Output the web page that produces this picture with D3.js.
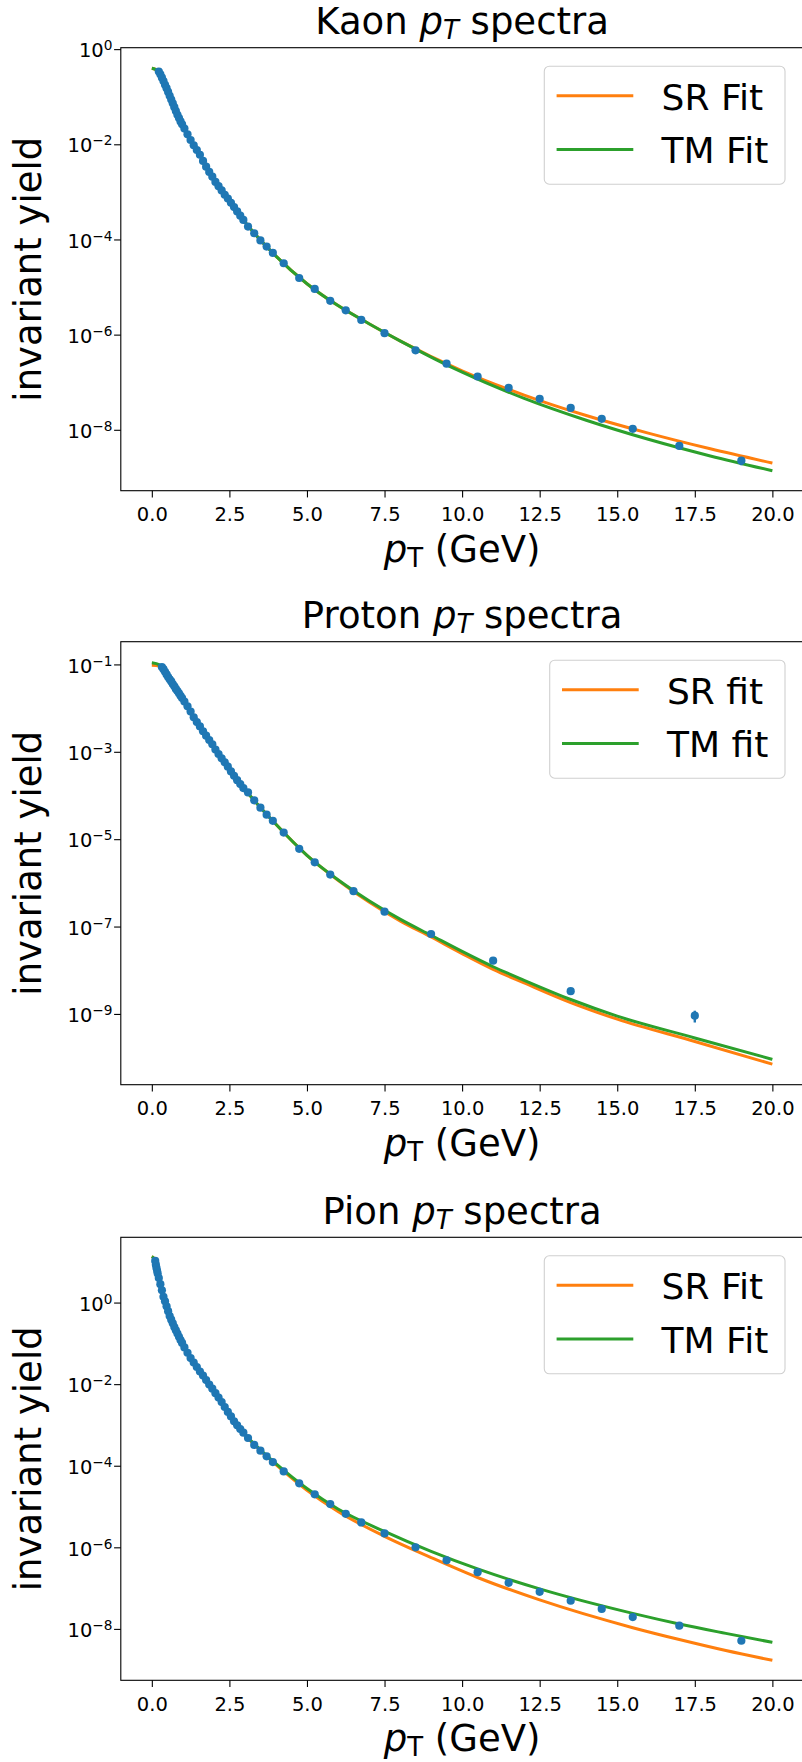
<!DOCTYPE html>
<html>
<head>
<meta charset="utf-8">
<script src="https://cdn.jsdelivr.net/npm/d3@7"></script>
<style>
  body { margin: 0; background: #fff; }
  svg { display: block; font-family: "DejaVu Sans", sans-serif; }
</style>
</head>
<body>
<svg id="chart" width="802" height="1762"></svg>
<script>
// values, yields stored as log10
const xTicks = [0, 2.5, 5, 7.5, 10, 12.5, 15, 17.5, 20];

// Kaon
const kaonPt = [0.225, 0.275, 0.325, 0.375, 0.425, 0.475, 0.525, 0.575, 0.625, 0.675, 0.725, 0.775, 0.825, 0.875, 0.925, 0.975,
    1.05, 1.15, 1.25, 1.35, 1.45, 1.55, 1.65, 1.75, 1.85, 1.95, 2.05, 2.15, 2.25, 2.35, 2.45, 2.55, 2.65, 2.75, 2.85, 2.95,
    3.1, 3.3, 3.5, 3.7, 3.9, 4.25, 4.75, 5.25, 5.75, 6.25, 6.75, 7.5, 8.5, 9.5, 10.5, 11.5, 12.5, 13.5, 14.5, 15.5, 17, 19];
const kaonLogY = [-0.47, -0.53, -0.60, -0.67, -0.75, -0.82, -0.90, -0.98, -1.06, -1.14, -1.22, -1.30, -1.38, -1.45, -1.52, -1.58,
    -1.67, -1.79, -1.91, -2.02, -2.12, -2.22, -2.35, -2.47, -2.58, -2.68, -2.79, -2.88, -2.97, -3.06, -3.14, -3.23, -3.32, -3.41, -3.50, -3.59,
    -3.73, -3.87, -4.02, -4.15, -4.28, -4.50, -4.81, -5.04, -5.29, -5.49, -5.69, -5.97, -6.33, -6.61, -6.88, -7.12, -7.35, -7.54, -7.77, -7.98, -8.34, -8.65];
const kaonErrPt = [15.5, 17, 19];
const kaonErr = [0.05, 0.1, 0.2];
const kaonFitPt = [0, 0.1, 0.25, 0.5, 0.75, 1, 1.5, 2, 2.5, 3, 4, 5, 6, 7, 8, 10, 12, 14, 16, 18, 20];
const kaonSR = [-0.40, -0.42, -0.50, -0.86, -1.26, -1.60, -2.17, -2.73, -3.18, -3.63, -4.35, -4.93, -5.39, -5.77, -6.13, -6.76, -7.27, -7.70, -8.07, -8.40, -8.70];
const kaonTM = [-0.40, -0.42, -0.50, -0.86, -1.26, -1.60, -2.17, -2.73, -3.18, -3.63, -4.35, -4.93, -5.39, -5.77, -6.13, -6.79, -7.34, -7.80, -8.20, -8.55, -8.86];

// Proton
const protonPt = [0.325, 0.375, 0.425, 0.475, 0.525, 0.575, 0.625, 0.675, 0.725, 0.775, 0.825, 0.875, 0.925, 0.975,
    1.05, 1.15, 1.25, 1.35, 1.45, 1.55, 1.65, 1.75, 1.85, 1.95, 2.05, 2.15, 2.25, 2.35, 2.45, 2.55, 2.65, 2.75, 2.85, 2.95,
    3.1, 3.3, 3.5, 3.7, 3.9, 4.25, 4.75, 5.25, 5.75, 6.5, 7.5, 9, 11, 13.5, 17.5];
const protonLogY = [-1.06, -1.11, -1.17, -1.23, -1.29, -1.34, -1.39, -1.45, -1.50, -1.56, -1.61, -1.66, -1.72, -1.77,
    -1.85, -1.96, -2.08, -2.21, -2.32, -2.42, -2.53, -2.63, -2.73, -2.83, -2.95, -3.05, -3.15, -3.24, -3.34, -3.45, -3.55, -3.65, -3.74, -3.83,
    -3.93, -4.11, -4.28, -4.44, -4.58, -4.85, -5.22, -5.53, -5.81, -6.19, -6.66, -7.17, -7.78, -8.48, -9.04];
const protonErrPt = [11, 13.5, 17.5];
const protonErr = [0.05, 0.12, 0.3];
const protonFitPt = [0, 0.25, 0.5, 1, 1.5, 2, 2.5, 3, 4, 5, 6, 7, 8, 9, 10, 11, 12, 13.5, 15, 17.5, 20];
const protonSR = [-1.02, -1.04, -1.26, -1.79, -2.37, -2.90, -3.39, -3.86, -4.66, -5.37, -5.94, -6.44, -6.87, -7.24, -7.62, -7.98, -8.29, -8.74, -9.12, -9.63, -10.15];
const protonTM = [-0.96, -1.01, -1.25, -1.79, -2.37, -2.90, -3.39, -3.86, -4.66, -5.37, -5.93, -6.41, -6.83, -7.20, -7.57, -7.92, -8.23, -8.67, -9.05, -9.55, -10.04];

// Pion
const pionPt = [0.11, 0.13, 0.15, 0.17, 0.19, 0.225, 0.275, 0.325, 0.375, 0.425, 0.475, 0.525, 0.575, 0.625, 0.675, 0.725, 0.775, 0.825, 0.875, 0.925, 0.975,
    1.05, 1.15, 1.25, 1.35, 1.45, 1.55, 1.65, 1.75, 1.85, 1.95, 2.05, 2.15, 2.25, 2.35, 2.45, 2.55, 2.65, 2.75, 2.85, 2.95,
    3.1, 3.3, 3.5, 3.7, 3.9, 4.25, 4.75, 5.25, 5.75, 6.25, 6.75, 7.5, 8.5, 9.5, 10.5, 11.5, 12.5, 13.5, 14.5, 15.5, 17, 19];
const pionLogY = [1.02, 0.93, 0.85, 0.78, 0.71, 0.60, 0.45, 0.30, 0.14, 0.03, -0.09, -0.21, -0.33, -0.42, -0.51, -0.60, -0.68, -0.76, -0.84, -0.92, -0.99,
    -1.10, -1.23, -1.36, -1.47, -1.58, -1.69, -1.79, -1.90, -2.01, -2.11, -2.22, -2.33, -2.44, -2.56, -2.68, -2.79, -2.91, -3.01, -3.10, -3.19,
    -3.32, -3.49, -3.63, -3.77, -3.91, -4.14, -4.43, -4.70, -4.94, -5.18, -5.39, -5.66, -6.00, -6.32, -6.61, -6.87, -7.09, -7.31, -7.51, -7.71, -7.92, -8.29];
const pionErrPt = [17, 19];
const pionErr = [0.05, 0.08];
const pionFitPt = [0, 0.1, 0.2, 0.3, 0.5, 0.75, 1, 1.5, 2, 2.5, 3, 3.5, 4, 5, 6, 7.5, 9, 10.5, 12.5, 15.5, 17, 18.5, 20];
const pionSR = [1.13, 1.04, 0.69, 0.37, -0.15, -0.64, -1.04, -1.64, -2.17, -2.73, -3.24, -3.63, -3.97, -4.60, -5.12, -5.73, -6.25, -6.74, -7.29, -7.97, -8.26, -8.53, -8.77];
const pionTM = [1.13, 1.04, 0.69, 0.37, -0.15, -0.64, -1.04, -1.64, -2.17, -2.72, -3.23, -3.61, -3.95, -4.56, -5.06, -5.61, -6.10, -6.53, -7.02, -7.62, -7.88, -8.11, -8.33];

const panels = [
    { name: "Kaon", pt: kaonPt, logY: kaonLogY, errPt: kaonErrPt, err: kaonErr, fitPt: kaonFitPt, sr: kaonSR, tm: kaonTM,
      labels: ["SR Fit", "TM Fit"], yTicks: [0, -2, -4, -6, -8], yLim: [-9.28, 0.03], top: 47.7 },
    { name: "Proton", pt: protonPt, logY: protonLogY, errPt: protonErrPt, err: protonErr, fitPt: protonFitPt, sr: protonSR, tm: protonTM,
      labels: ["SR fit", "TM fit"], yTicks: [-1, -3, -5, -7, -9], yLim: [-10.62, -0.48], top: 641.7 },
    { name: "Pion", pt: pionPt, logY: pionLogY, errPt: pionErrPt, err: pionErr, fitPt: pionFitPt, sr: pionSR, tm: pionTM,
      labels: ["SR Fit", "TM Fit"], yTicks: [0, -2, -4, -6, -8], yLim: [-9.26, 1.60], top: 1237.3 }
];

const svg = d3.select("#chart");
const left = 120.8, right = 803.4, plotH = 443;
const orange = "#ff7f0e", green = "#2ca02c", blue = "#1f77b4";
const tickLen = 6.7;

panels.forEach((p, i) => {
    const bottom = p.top + plotH;
    const x = d3.scaleLinear().domain([-1, 21]).range([left, right]);
    const y = d3.scaleLog().domain(p.yLim.map(v => 10 ** v)).range([bottom, p.top]);
    const g = svg.append("g");

    g.append("clipPath").attr("id", "clip" + i)
        .append("rect").attr("x", left).attr("y", p.top).attr("width", right - left).attr("height", plotH);
    const plot = g.append("g").attr("clip-path", `url(#clip${i})`);

    // fit curves
    const line = d3.line().x(d => x(d[0])).y(d => y(d[1])).curve(d3.curveMonotoneX);
    [[p.sr, orange], [p.tm, green]].forEach(([vals, c]) => {
        plot.append("path")
            .datum(p.fitPt.map((t, k) => [t, 10 ** vals[k]]))
            .attr("d", line)
            .attr("fill", "none")
            .attr("stroke", c)
            .attr("stroke-width", 3);
    });

    // data with error bars
    const pts = p.pt.map((t, k) => {
        const j = p.errPt.indexOf(t);
        return { x: t, y: 10 ** p.logY[k], e: j >= 0 ? p.err[j] : 0 };
    });
    plot.selectAll(".err").data(pts.filter(d => d.e > 0)).join("line")
        .attr("x1", d => x(d.x)).attr("x2", d => x(d.x))
        .attr("y1", d => y(d.y * (1 - d.e))).attr("y2", d => y(d.y * (1 + d.e)))
        .attr("stroke", blue).attr("stroke-width", 2.4);
    plot.selectAll(".pt").data(pts).join("circle")
        .attr("cx", d => x(d.x)).attr("cy", d => y(d.y)).attr("r", 4.1)
        .attr("fill", blue);

    // x axis
    const xAxis = d3.axisBottom(x).tickValues(xTicks).tickSize(tickLen).tickPadding(10)
        .tickFormat(d3.format(".1f"));
    const gx = g.append("g").attr("transform", `translate(0,${bottom})`).call(xAxis);
    gx.select(".domain").remove();
    gx.selectAll("line").attr("stroke", "#000").attr("stroke-width", 1.1);
    gx.selectAll("text").attr("fill", "#000").style("font-size", "19.5px")
        .style("font-family", "DejaVu Sans");

    // y axis, labels as 10^n
    const yAxis = d3.axisLeft(y).tickValues(p.yTicks.map(v => 10 ** v)).tickSize(tickLen).tickPadding(1.6);
    const gy = g.append("g").attr("transform", `translate(${left},0)`).call(yAxis);
    gy.select(".domain").remove();
    gy.selectAll("line").attr("stroke", "#000").attr("stroke-width", 1.1);
    gy.selectAll(".tick text").each(function (d, k) {
        const t = d3.select(this).text(null).attr("dy", null).attr("y", 7.7)
            .attr("fill", "#000").style("font-size", "19.5px").style("font-family", "DejaVu Sans");
        t.append("tspan").text("10");
        const e = p.yTicks[k];
        t.append("tspan").attr("dy", -7).style("font-size", "13.7px")
            .text(e < 0 ? "\u2212" + (-e) : String(e));
    });

    // frame
    g.append("rect").attr("x", left).attr("y", p.top).attr("width", right - left).attr("height", plotH)
        .attr("fill", "none").attr("stroke", "#000").attr("stroke-width", 1.1);

    // title
    const cx = (left + right) / 2;
    const title = g.append("text").attr("x", cx).attr("y", p.top - 13.5)
        .attr("text-anchor", "middle").style("font-size", "37px");
    title.append("tspan").text(p.name + " ");
    title.append("tspan").style("font-style", "italic").text("p");
    title.append("tspan").style("font-style", "italic").style("font-size", "26px").attr("dy", 5).text("T");
    title.append("tspan").attr("dy", -5).text(" spectra");

    // x label
    const xl = g.append("text").attr("x", cx).attr("y", bottom + 71)
        .attr("text-anchor", "middle").style("font-size", "37px");
    xl.append("tspan").style("font-style", "italic").text("p");
    xl.append("tspan").style("font-size", "26px").attr("dy", 5).text("T");
    xl.append("tspan").attr("dy", -5).text(" (GeV)");

    // y label
    g.append("text").attr("transform", `translate(40.5,${p.top + plotH / 2}) rotate(-90)`)
        .attr("text-anchor", "middle").style("font-size", "37px").text("invariant yield");

    // legend
    const lg = g.append("g");
    const boxRight = 785, boxTop = p.top + 18.5, rowY = [29.5, 83.3];
    const texts = p.labels.map((lab, k) => lg.append("text")
        .attr("y", boxTop + rowY[k] + 13.8).style("font-size", "36px").text(lab));
    const textW = d3.max(texts, t => t.node().getComputedTextLength());
    const boxLeft = boxRight - (12.3 + 76.7 + 28.3 + textW + 16.7);
    lg.insert("rect", "text").attr("x", boxLeft).attr("y", boxTop)
        .attr("width", boxRight - boxLeft).attr("height", 118).attr("rx", 5)
        .attr("fill", "#fff").attr("fill-opacity", 0.8).attr("stroke", "#d0d0d0").attr("stroke-width", 1.1);
    [orange, green].forEach((c, k) => {
        lg.append("line").attr("x1", boxLeft + 12.3).attr("x2", boxLeft + 89)
            .attr("y1", boxTop + rowY[k]).attr("y2", boxTop + rowY[k])
            .attr("stroke", c).attr("stroke-width", 3);
    });
    texts.forEach(t => t.attr("x", boxLeft + 117.3));
});
</script>
</body>
</html>
